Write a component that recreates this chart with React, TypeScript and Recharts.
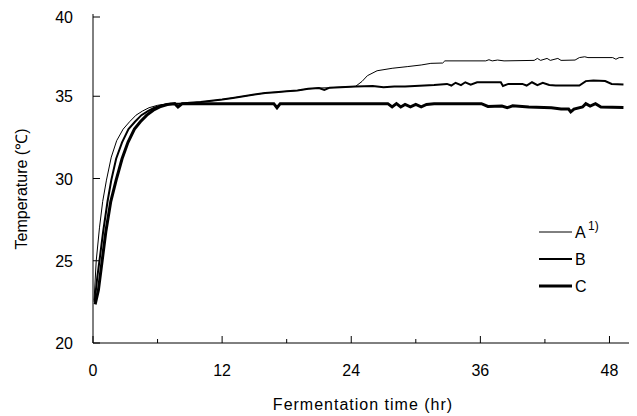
import { Customized, Line, LineChart, XAxis, YAxis } from "recharts";

// [time (hr), temperature (°C)]
const seriesA: [number, number][] = [
  [0.1, 22.6], [0.3, 25.0], [0.6, 27.0], [0.9, 28.6], [1.25, 29.9], [1.7, 31.3], [2.2, 32.3],
  [2.8, 33.0], [3.4, 33.45], [4.0, 33.85], [4.6, 34.1], [5.2, 34.3], [6.0, 34.45], [7.0, 34.55],
  [8, 34.55], [9, 34.6], [10, 34.65], [11, 34.72], [12, 34.8], [13, 34.9], [14, 35.0], [15, 35.1],
  [16, 35.2], [17, 35.25], [18, 35.3], [19, 35.35], [20, 35.45], [21, 35.5], [22, 35.52],
  [23, 35.55], [24.4, 35.6], [25, 35.9], [25.5, 36.25], [26.4, 36.55], [27.8, 36.7], [29.2, 36.8],
  [30.5, 36.9], [31.4, 37.0], [32.5, 37.02], [32.7, 37.15], [36.5, 37.15], [36.8, 37.22],
  [37.1, 37.15], [37.6, 37.2], [38.2, 37.15], [41, 37.18], [41.3, 37.3], [41.6, 37.18],
  [42.2, 37.3], [42.5, 37.18], [43.2, 37.3], [43.5, 37.18], [44.8, 37.2], [45.2, 37.35],
  [45.7, 37.4], [46, 37.35], [48.3, 37.35], [48.6, 37.25], [48.9, 37.35], [49.3, 37.35],
];

const seriesB: [number, number][] = [
  [0.15, 22.5], [0.4, 24.0], [0.6, 25.0], [0.95, 26.8], [1.35, 28.6], [1.7, 29.9], [2.15, 31.2],
  [2.7, 32.2], [3.3, 33.0], [3.9, 33.45], [4.5, 33.85], [5.1, 34.1], [5.7, 34.3], [6.4, 34.45],
  [7.2, 34.55], [8, 34.55], [9, 34.6], [10, 34.65], [11, 34.72], [12, 34.8], [13, 34.9],
  [14, 35.0], [15, 35.1], [16, 35.2], [17, 35.25], [18, 35.3], [19, 35.35], [20, 35.45],
  [21, 35.5], [21.5, 35.38], [22, 35.52], [23, 35.55], [24.4, 35.6], [26, 35.62], [27, 35.55],
  [28, 35.6], [29, 35.6], [31.7, 35.68], [32.9, 35.75], [33.3, 35.65], [33.7, 35.82],
  [34.2, 35.68], [34.6, 35.85], [35.1, 35.7], [35.7, 35.85], [37.9, 35.85], [38.1, 35.62],
  [38.6, 35.75], [39.9, 35.75], [40.3, 35.65], [40.8, 35.85], [41.3, 35.68], [41.8, 35.82],
  [42.4, 35.68], [43, 35.65], [45.2, 35.65], [45.8, 35.92], [46.5, 35.95], [47.6, 35.92],
  [48.2, 35.75], [49.3, 35.72],
];

const seriesC: [number, number][] = [
  [0.2, 22.35], [0.5, 23.2], [0.85, 25.0], [1.2, 26.8], [1.65, 28.6], [2.15, 29.9], [2.7, 31.2],
  [3.25, 32.2], [3.85, 33.0], [4.4, 33.45], [5.0, 33.85], [5.6, 34.15], [6.2, 34.35], [6.9, 34.5],
  [7.6, 34.55], [7.9, 34.35], [8.3, 34.55], [12, 34.55], [16.8, 34.55], [17.1, 34.3],
  [17.4, 34.55], [21, 34.55], [27.4, 34.55], [27.8, 34.35], [28.2, 34.55], [28.6, 34.35],
  [29, 34.5], [29.5, 34.35], [30, 34.5], [30.5, 34.35], [31, 34.5], [31.7, 34.55], [36.1, 34.55],
  [36.7, 34.38], [38, 34.4], [38.5, 34.3], [39, 34.42], [40.5, 34.35], [42.6, 34.3],
  [43.5, 34.22], [44.2, 34.22], [44.4, 34.05], [44.7, 34.22], [45.5, 34.35], [45.8, 34.55],
  [46.2, 34.4], [46.7, 34.55], [47.2, 34.35], [49.3, 34.32],
];

const xTicks = [0, 6, 12, 18, 24, 30, 36, 42, 48];
const yTicks = [20, 25, 30, 35, 40];

const font = "'Liberation Sans', Arial, sans-serif";

const toRows = (s: [number, number][]) => s.map(([t, v]) => ({ t, v }));

const XTick = (props: any) => {
  const { x, y, payload } = props;
  const major = payload.value % 12 === 0;
  return (
    <g>
      <line x1={x} x2={x} y1={y} y2={y - (major ? 7 : 4)} stroke="#000" />
      {major && (
        <text x={x} y={y + 33} textAnchor="middle" fontSize={16} fontFamily={font} fill="#000">
          {payload.value}
        </text>
      )}
    </g>
  );
};

const YTick = (props: any) => {
  const { x, y, payload } = props;
  return (
    <g>
      <line x1={x} x2={x + 7} y1={y} y2={y} stroke="#000" />
      <text x={x - 20} y={y + 6} textAnchor="end" fontSize={16} fontFamily={font} fill="#000">
        {payload.value}
      </text>
    </g>
  );
};

const Extras = () => (
  <g fontFamily={font} fontSize={16} fill="#000">
    <text x={19} y={181} transform="rotate(-90 19 181)" textAnchor="middle">
      Temperature (℃)
    </text>
    <text x={355} y={402} textAnchor="middle" letterSpacing={1}>
      Fermentation time (hr)
    </text>
    <line x1={531} x2={564} y1={224} y2={224} stroke="#000" strokeWidth={1} />
    <text x={567} y={230}>A</text>
    <text x={580} y={222} fontSize={12}>1)</text>
    <line x1={531} x2={564} y1={251} y2={251} stroke="#000" strokeWidth={2} />
    <text x={567} y={257}>B</text>
    <line x1={531} x2={564} y1={278} y2={278} stroke="#000" strokeWidth={3} />
    <text x={567} y={284}>C</text>
  </g>
);

export default function App() {
  return (
    <LineChart width={629} height={408} margin={{ top: 6, right: 6, left: 0, bottom: 3 }}>
      <XAxis
        dataKey="t"
        type="number"
        domain={[0, 50]}
        ticks={xTicks}
        tickLine={false}
        tickSize={0}
        tickMargin={0}
        tick={<XTick />}
        axisLine={{ stroke: "#000" }}
        height={70}
        allowDataOverflow
      />
      <YAxis
        type="number"
        domain={[20, 40]}
        ticks={yTicks}
        tickLine={false}
        tickSize={0}
        tickMargin={0}
        tick={<YTick />}
        axisLine={{ stroke: "#000" }}
        width={85}
        allowDataOverflow
      />
      <Line data={toRows(seriesA)} dataKey="v" stroke="#000" strokeWidth={1} dot={false} isAnimationActive={false} />
      <Line data={toRows(seriesB)} dataKey="v" stroke="#000" strokeWidth={2} dot={false} isAnimationActive={false} />
      <Line data={toRows(seriesC)} dataKey="v" stroke="#000" strokeWidth={3} dot={false} isAnimationActive={false} />
      <Customized component={Extras} />
    </LineChart>
  );
}
